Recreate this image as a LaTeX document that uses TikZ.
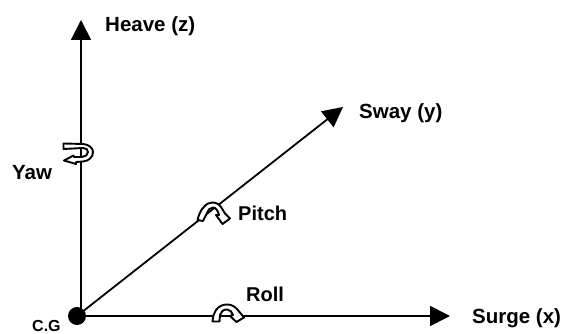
\documentclass[tikz,border=0pt]{standalone}
\usepackage{fontspec}
\setmainfont{Liberation Sans}
\usetikzlibrary{arrows.meta}
\tikzset{
  axis/.style={line width=1.8pt,-{Triangle[length=20pt,width=20pt]}},
  lbl/.style={inner sep=0pt,anchor=base west,font=\fontsize{20.5}{24}\selectfont\bfseries},
  band/.style={draw=black,fill=white,line width=1.9pt,line join=round}
}
\begin{document}
\begin{tikzpicture}[x=1pt,y=1pt]
\useasboundingbox (0,0) rectangle (563,334);
\coordinate (heave) at (81,314);
\coordinate (sway) at (343,227);
\coordinate (surge) at (450,18);
% Axes
\draw[axis] (81,18) -- (heave);
\draw[axis] (77,18) -- (sway);
\draw[axis] (77,18) -- (surge);
\node[circle,fill=black,inner sep=0pt,minimum size=18pt] (cg) at (77,18) {};
% Yaw
\draw[band] (63.5,190.5) -- (83,190) .. controls (89,189.5) and (93,186) .. (93,182) .. controls (93,177) and (89,173) .. (83,172.5) -- (76,172) -- (76,170) -- (64,173.5) -- (73.5,178.5) -- (74,177) -- (82,177) .. controls (85,177) and (88,179) .. (88,182) .. controls (88,184.5) and (86,186) .. (83,186) -- (63.5,185) -- cycle;
% Pitch
\draw[band] (197.5,114) .. controls (199,120) and (201,124) .. (203,126) .. controls (206,130) and (209,131.5) .. (212,131.5) .. controls (216,131.5) and (219,130) .. (221,127) -- (225,120.5) -- (230,115.5) -- (222.5,110) -- (216,119) -- (219,119) .. controls (218,123) and (216,126.5) .. (213,126.5) .. controls (210,126.5) and (208,124) .. (207,121) -- (203,113) -- cycle;
% Roll
\draw[band] (212.5,12.5) .. controls (213,18) and (214,21) .. (216,24) .. controls (219,28) and (223,29.5) .. (227,29.5) .. controls (231,29.5) and (234,28) .. (237,25) -- (244,16.5) -- (236.5,12) -- (230,18) -- (233,19) .. controls (232,22) and (230,24.5) .. (227,24.5) .. controls (223,24.5) and (221,22) .. (220,19) -- (219.5,12.5) -- cycle;
% Labels
\node[lbl] (heavelbl) at (105,302) {Heave (z)};
\node[lbl] (swaylbl) at (359,215) {Sway (y)};
\node[lbl] (surgelbl) at (472,10) {Surge (x)};
\node[lbl] (yawlbl) at (12,154) {Yaw};
\node[lbl,font=\fontsize{20}{24}\selectfont\bfseries] (pitchlbl) at (238,113) {Pitch};
\node[lbl,font=\fontsize{20}{24}\selectfont\bfseries] (rolllbl) at (246,32) {Roll};
\node[lbl,font=\fontsize{16}{18}\selectfont\bfseries] (cglbl) at (32,2) {C.G};
\end{tikzpicture}
\end{document}
